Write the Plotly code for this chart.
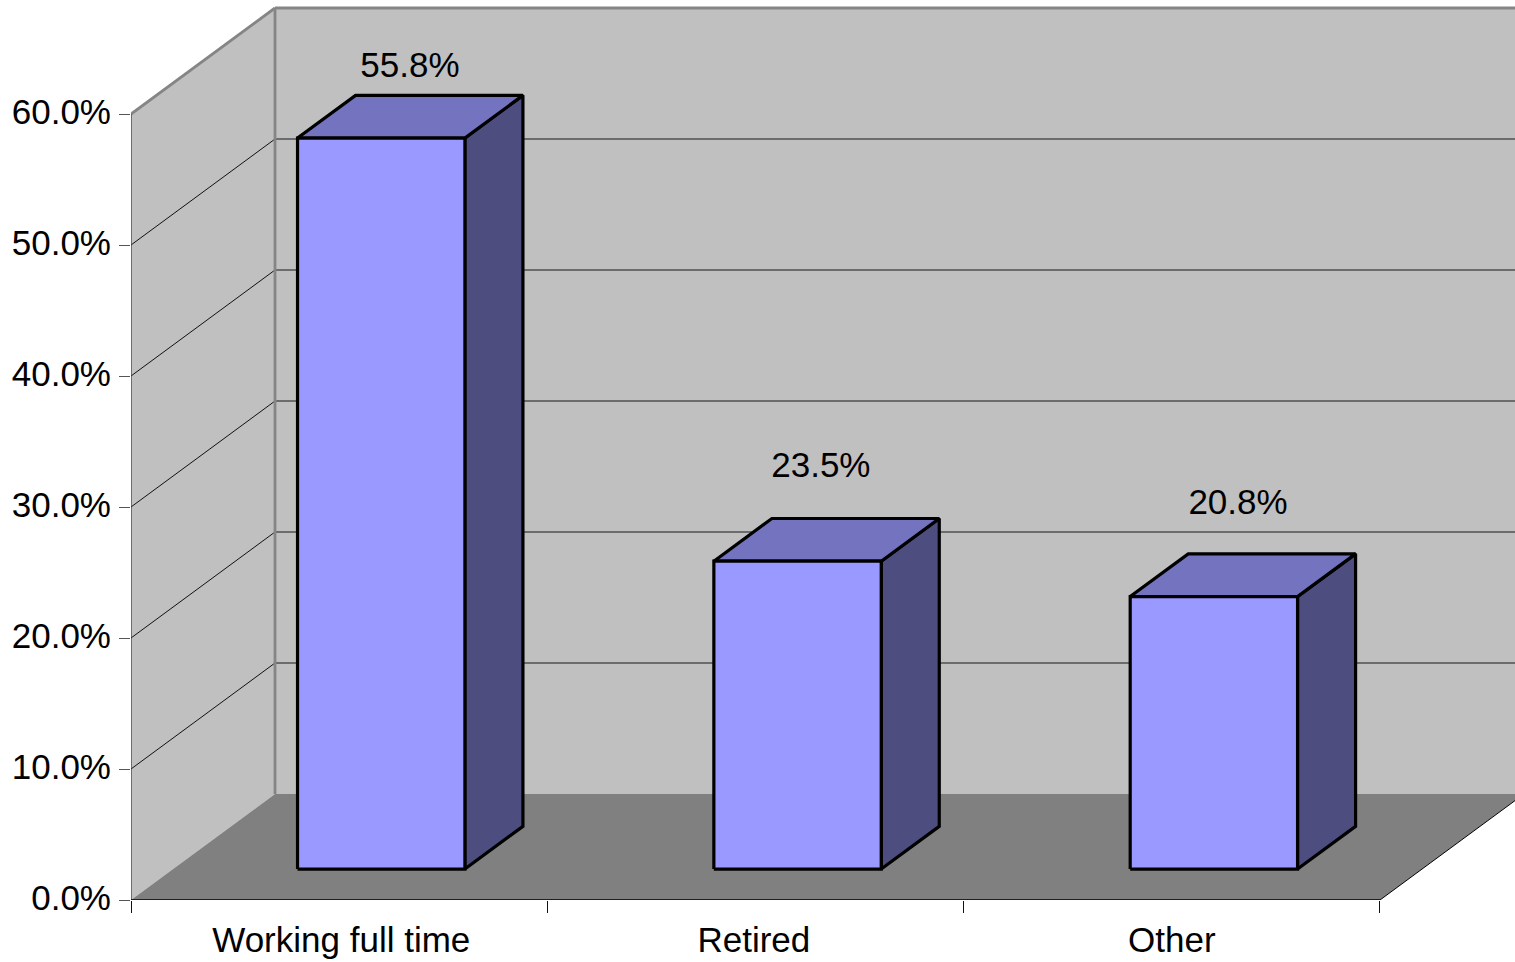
import plotly.graph_objects as go

# Chart data
categories = ["Working full time", "Retired", "Other"]
shares = [55.8, 23.5, 20.8]
y_ticks = [0, 10, 20, 30, 40, 50, 60]
y_tick_labels = ["0.0%", "10.0%", "20.0%", "30.0%", "40.0%", "50.0%", "60.0%"]
x_boundaries = [0, 1, 2, 3]

# Oblique projection: one unit of depth shifts a point right and up the wall
DEPTH_X = 144 / 416.33
DEPTH_Y = 106 / 13.1
Y_MAX = 60
X_MAX = 3
BAR_WIDTH = 0.402
BAR_DEPTH_FRONT = 0.292
BAR_DEPTH_BACK = 0.695

# Value-label placement relative to each bar's front top edge
LABEL_SHIFT_X = [0.069, 0.056, 0.058]
LABEL_LIFT = [5.34, 7.12, 6.96]

# Category-label nudges around each category's centre
CATEGORY_NUDGE = [0.005, -0.004, 0.0]

WALL = "#C0C0C0"
FLOOR = "#808080"
EDGE = "#858585"
FRONT = "#9999FF"
TOP = "#7373BF"
SIDE = "#4D4D80"
FONT = dict(family="Liberation Sans, Arial, sans-serif", size=35, color="black")


def project(x, value, depth):
    return x + depth * DEPTH_X, value + depth * DEPTH_Y


def polygon(points, fill, line_color=None, line_width=0):
    xs, ys = zip(*[project(*p) for p in points + points[:1]])
    return go.Scatter(
        x=xs, y=ys, mode="lines", fill="toself", fillcolor=fill,
        line=dict(color=line_color or fill, width=line_width),
        hoverinfo="skip", showlegend=False, cliponaxis=False,
    )


def segment(start, end, color, width):
    xs, ys = zip(project(*start), project(*end))
    return go.Scatter(
        x=xs, y=ys, mode="lines", line=dict(color=color, width=width),
        hoverinfo="skip", showlegend=False, cliponaxis=False,
    )


fig = go.Figure()

# Walls and floor of the chart box
fig.add_trace(polygon([(0, 0, 0), (0, Y_MAX, 0), (0, Y_MAX, 1), (0, 0, 1)], WALL))
fig.add_trace(polygon([(0, 0, 1), (0, Y_MAX, 1), (X_MAX, Y_MAX, 1), (X_MAX, 0, 1)], WALL))
fig.add_trace(polygon([(0, 0, 0), (X_MAX, 0, 0), (X_MAX, 0, 1), (0, 0, 1)], FLOOR))

# Gridlines across the side wall and the back wall
for tick in y_ticks[1:-1]:
    fig.add_trace(segment((0, tick, 0), (0, tick, 1), "#111111", 1))
    fig.add_trace(segment((0, tick, 1), (X_MAX, tick, 1), "#505050", 1.3))

# Box edges
fig.add_trace(segment((0, Y_MAX, 0), (0, Y_MAX, 1), EDGE, 2.8))
fig.add_trace(segment((0, Y_MAX, 1), (X_MAX, Y_MAX, 1), EDGE, 2.8))
fig.add_trace(segment((0, 0, 1), (0, Y_MAX, 1), EDGE, 2.8))
fig.add_trace(segment((0, 0, 0), (0, Y_MAX, 0), "#404040", 1.3))
fig.add_trace(segment((X_MAX, 0, 0), (X_MAX, 0, 1), "black", 1))
fig.add_trace(segment((0, 0, 0), (X_MAX, 0, 0), "black", 1.6))

# Bars: side, top and front faces, outlined in black
label_x, label_y = [], []
for i, value in enumerate(shares):
    left = i + 0.5 - BAR_WIDTH / 2
    right = i + 0.5 + BAR_WIDTH / 2
    near, far = BAR_DEPTH_FRONT, BAR_DEPTH_BACK
    fig.add_trace(polygon(
        [(right, 0, near), (right, 0, far), (right, value, far), (right, value, near)],
        SIDE, "black", 3.2))
    fig.add_trace(polygon(
        [(left, value, near), (left, value, far), (right, value, far), (right, value, near)],
        TOP, "black", 3.2))
    fig.add_trace(polygon(
        [(left, 0, near), (left, value, near), (right, value, near), (right, 0, near)],
        FRONT, "black", 3.2))
    cx, top = project(i + 0.5, value, near)
    label_x.append(cx + LABEL_SHIFT_X[i])
    label_y.append(top + LABEL_LIFT[i])

# Value labels above the bars
fig.add_trace(go.Scatter(
    x=label_x, y=label_y, mode="text",
    text=[f"{v:.1f}%" for v in shares],
    textposition="middle center", textfont=FONT,
    hoverinfo="skip", showlegend=False, cliponaxis=False,
))

fig.update_layout(
    width=1515, height=962,
    margin=dict(l=131, r=0, t=0, b=62),
    paper_bgcolor="white", plot_bgcolor="white",
    showlegend=False, font=FONT,
    xaxis=dict(
        range=[0, (1515 - 131) / 416.33], showgrid=False, zeroline=False,
        showline=False, tickmode="array",
        tickvals=[i + 0.5 + n for i, n in enumerate(CATEGORY_NUDGE)], ticktext=categories,
        ticks="outside", ticklen=9, tickcolor="rgba(0,0,0,0)", tickfont=FONT,
        minor=dict(tickmode="array", tickvals=x_boundaries, ticks="outside",
                   ticklen=12, tickwidth=1, tickcolor="#111111", showgrid=False),
    ),
    yaxis=dict(
        range=[0, 900 / 13.1], showgrid=False, zeroline=False, showline=False,
        tickmode="array", tickvals=y_ticks, ticktext=y_tick_labels,
        ticks="outside", ticklen=11, tickwidth=1, tickcolor="#555555", tickfont=FONT,
        ticklabelstandoff=1, ticklabelshift=-2,
    ),
)

fig.write_html("out.html", config=dict(displayModeBar=False))
